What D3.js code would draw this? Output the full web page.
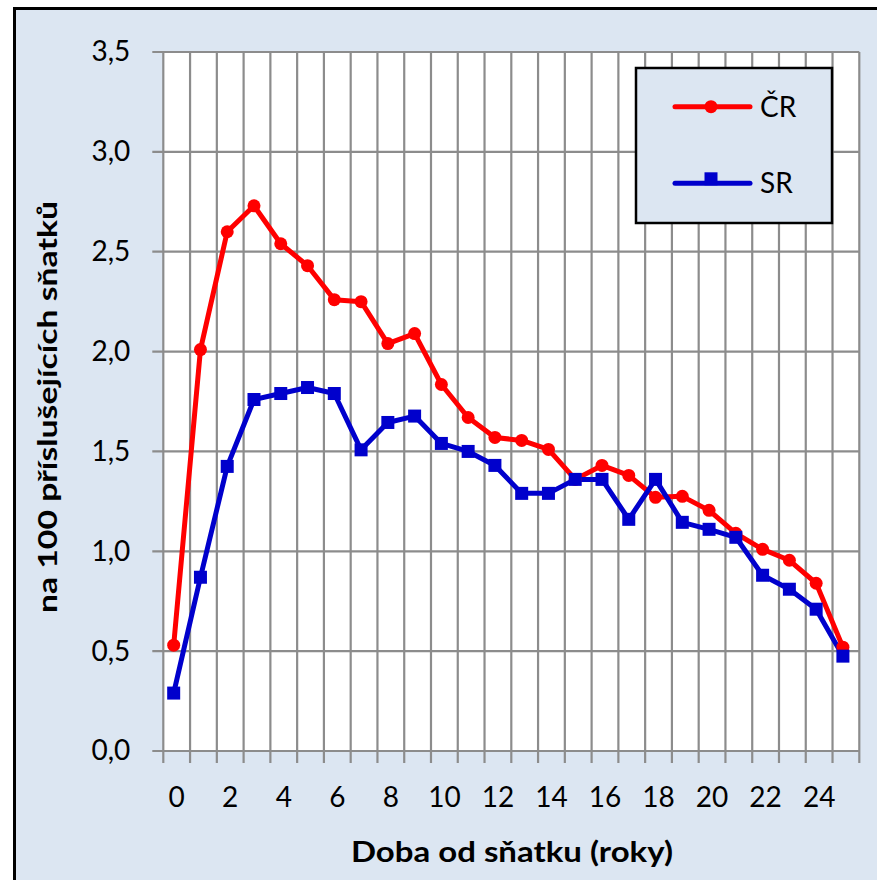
<!DOCTYPE html>
<html><head><meta charset="utf-8">
<script src="https://cdn.jsdelivr.net/npm/d3@7"></script>
<style>body{margin:0;background:#fff}svg{display:block}</style>
</head><body>
<script>
const years = d3.range(0, 26);
const seriesNames = ["ČR", "SR"];
const cr = [0.53,2.01,2.60,2.73,2.54,2.43,2.26,2.25,2.04,2.09,1.835,1.67,1.57,1.555,1.51,1.36,1.43,1.38,1.27,1.275,1.205,1.09,1.01,0.955,0.84,0.52];
const sr = [0.29,0.87,1.425,1.76,1.79,1.82,1.79,1.508,1.645,1.677,1.54,1.50,1.43,1.29,1.29,1.36,1.36,1.16,1.36,1.145,1.11,1.07,0.88,0.81,0.71,0.475];
const yTicks = [0,0.5,1,1.5,2,2.5,3,3.5];
const xTickLabels = [0,2,4,6,8,10,12,14,16,18,20,22,24];
const yTitle = "na 100 příslušejících sňatků";
const xTitle = "Doba od sňatku (roky)";

const W = 877, H = 880;
const FONT = "Lato, 'Open Sans', sans-serif";
const svg = d3.select("body").append("svg").attr("width", W).attr("height", H);

// chart background
svg.append("rect").attr("x", 14.5).attr("y", 8.5).attr("width", W + 20).attr("height", H + 20)
  .attr("fill", "#dce6f2").attr("stroke", "#000").attr("stroke-width", 3);

const L = 163.3, R = 859.3, T = 52, B = 751;
const x = d3.scaleBand().domain(years).range([L, R]);
const y = d3.scaleLinear().domain([0, 3.5]).range([B, T]);

svg.append("rect").attr("x", L).attr("y", T).attr("width", R - L).attr("height", B - T).attr("fill", "#fff");

const grid = "#8c8c8c";
// horizontal gridlines + y ticks
svg.append("g").selectAll("line").data(yTicks).join("line")
  .attr("x1", L - 11).attr("x2", R).attr("y1", d => y(d)).attr("y2", d => y(d))
  .attr("stroke", grid).attr("stroke-width", 2.2);
// vertical gridlines (category boundaries) + x ticks
const bounds = years.map(d => x(d)).concat([x.range()[1]]);
svg.append("g").selectAll("line").data(bounds).join("line")
  .attr("x1", d => d).attr("x2", d => d).attr("y1", T).attr("y2", B + 12)
  .attr("stroke", grid).attr("stroke-width", 2.2);

// y axis labels
const yAxis = d3.axisLeft(y).tickValues(yTicks).tickSize(0).tickPadding(22)
  .tickFormat(d => d3.format(".1f")(d).replace(".", ","));
const gy = svg.append("g").attr("transform", `translate(${L - 11 + 11},0)`).call(yAxis);
gy.select(".domain").remove();
gy.selectAll("text").attr("font-family", FONT).attr("font-size", 28).attr("fill", "#000")
  .attr("dx", -11 + 11 - 11 + 11 + 11 - 11).attr("x", -33);

// x axis labels
const xAxis = d3.axisBottom(x).tickValues(xTickLabels).tickSize(0).tickPadding(0);
const gx = svg.append("g").attr("transform", `translate(0,${B})`).call(xAxis);
gx.select(".domain").remove();
gx.selectAll("text").attr("font-family", FONT).attr("font-size", 28).attr("fill", "#000")
  .attr("y", 56).attr("dy", null);

// titles
svg.append("text").attr("transform", `translate(57,${407}) rotate(-90)`)
  .attr("text-anchor", "middle").attr("font-family", FONT).attr("font-weight", "bold")
  .attr("font-size", 26).attr("textLength", 412).attr("lengthAdjust", "spacingAndGlyphs").text(yTitle);
svg.append("text").attr("x", 512).attr("y", 862)
  .attr("text-anchor", "middle").attr("font-family", FONT).attr("font-weight", "bold")
  .attr("font-size", 29).attr("textLength", 322).attr("lengthAdjust", "spacingAndGlyphs").text(xTitle);

// lines
const px = d => x(d) + x.bandwidth() / 2 - 3;
const colors = ["#ff0000", "#0000cc"];
const line = d3.line().x((d, i) => px(years[i])).y(d => y(d));
[cr, sr].forEach((s, k) => {
  svg.append("path").datum(s).attr("d", line).attr("fill", "none")
    .attr("stroke", colors[k]).attr("stroke-width", 5).attr("stroke-linejoin", "round");
});
svg.append("g").selectAll("circle").data(cr).join("circle")
  .attr("cx", (d, i) => px(years[i])).attr("cy", d => y(d)).attr("r", 6.5).attr("fill", colors[0]);
svg.append("g").selectAll("rect").data(sr).join("rect")
  .attr("x", (d, i) => px(years[i]) - 6.5).attr("y", d => y(d) - 6.5)
  .attr("width", 13).attr("height", 13).attr("fill", colors[1]);

// legend
const lg = svg.append("g");
lg.append("rect").attr("x", 636).attr("y", 68).attr("width", 196).attr("height", 155)
  .attr("fill", "#dce6f2").attr("stroke", "#000").attr("stroke-width", 2.5);
const ly = [106.7, 183.3];
seriesNames.forEach((n, k) => {
  lg.append("line").attr("x1", 675).attr("x2", 750).attr("y1", ly[k]).attr("y2", ly[k])
    .attr("stroke", colors[k]).attr("stroke-width", 5).attr("stroke-linecap", "round");
  if (k === 0) lg.append("circle").attr("cx", 711).attr("cy", ly[k]).attr("r", 6.5).attr("fill", colors[k]);
  else lg.append("rect").attr("x", 704.5).attr("y", ly[k] - 11).attr("width", 13).attr("height", 13).attr("fill", colors[k]);
  lg.append("text").attr("x", 760).attr("y", ly[k] + 10).attr("font-family", FONT)
    .attr("font-size", 28).attr("fill", "#000").text(n);
});
</script>
</body></html>
